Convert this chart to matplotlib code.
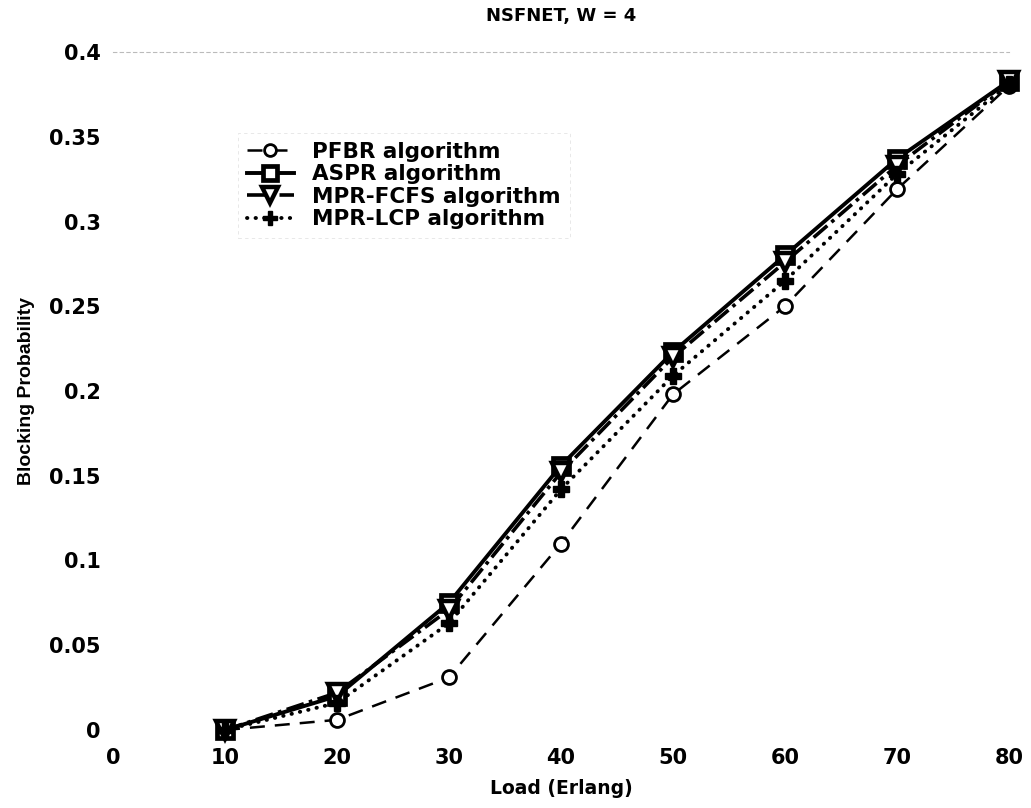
import matplotlib
matplotlib.use("Agg")
import matplotlib.pyplot as plt

load = [10, 20, 30, 40, 50, 60, 70, 80]
pfbr = [0.0, 0.006, 0.031, 0.110, 0.198, 0.250, 0.319, 0.380]
aspr = [0.0, 0.020, 0.075, 0.156, 0.223, 0.280, 0.337, 0.383]
mpr_fcfs = [0.0, 0.022, 0.071, 0.152, 0.220, 0.276, 0.333, 0.383]
mpr_lcp = [0.0, 0.016, 0.063, 0.142, 0.209, 0.265, 0.328, 0.381]

labels = ["PFBR algorithm", "ASPR algorithm", "MPR-FCFS algorithm", "MPR-LCP algorithm"]
xticks = [0, 10, 20, 30, 40, 50, 60, 70, 80]
yticks = [0, 0.05, 0.1, 0.15, 0.2, 0.25, 0.3, 0.35, 0.4]
yticklabels = ["0", "0.05", "0.1", "0.15", "0.2", "0.25", "0.3", "0.35", "0.4"]

plt.rcParams['font.family'] = ['DejaVu Sans']
plt.rcParams['font.weight'] = 'bold'

fig = plt.figure(figsize=(10.31, 8.08), dpi=100)
ax = fig.add_axes([113/1031, 1-730/808, (1009-113)/1031, (730-52)/808])

ax.plot(load, pfbr, color='black', lw=1.8, ls=(0, (6, 4)), marker='o', ms=10,
        mfc='white', mec='black', mew=2.0, clip_on=False, label=labels[0], zorder=3)
ax.plot(load, aspr, color='black', lw=2.8, ls='-', marker='s', ms=12,
        mfc='white', mec='black', mew=3.4, clip_on=False, label=labels[1], zorder=4)
ax.plot(load, mpr_fcfs, color='black', lw=2.6, ls=(0, (5, 1.5, 1, 1.5)), marker='v', ms=13,
        mfc='white', mec='black', mew=3.2, clip_on=False, label=labels[2], zorder=4)
ax.plot(load, mpr_lcp, color='black', lw=2.8, ls=(0, (0.1, 2.1)), dash_capstyle='round',
        marker='P', ms=12, mfc='black', mec='black', mew=1.0, clip_on=False,
        label=labels[3], zorder=5)

ax.set_xlim(0, 80)
ax.set_ylim(0, 0.4)
ax.set_xticks(xticks)
ax.set_xticklabels([str(t) for t in xticks])
ax.set_yticks(yticks)
ax.set_yticklabels(yticklabels)
ax.tick_params(axis='both', length=0, labelsize=15)
ax.tick_params(axis='x', pad=13)
ax.tick_params(axis='y', pad=9)

for s in ['left', 'right', 'bottom']:
    ax.spines[s].set_visible(False)
ax.spines['top'].set_color('#bbbbbb')
ax.spines['top'].set_linestyle((0, (3, 3)))
ax.spines['top'].set_linewidth(0.8)

ax.set_title("NSFNET, W = 4", fontsize=13, fontweight='bold', pad=22)
ax.set_xlabel("Load (Erlang)", fontsize=13.5, fontweight='bold', labelpad=8)
ax.set_ylabel("Blocking Probability", fontsize=14, fontweight='bold', labelpad=10,
              family=['Liberation Sans'])

leg = ax.legend(loc='upper left', bbox_to_anchor=(238/1031, 1-133/808),
                bbox_transform=fig.transFigure, fontsize=15.5, frameon=True,
                fancybox=False, edgecolor='#dddddd', borderaxespad=0, borderpad=0.4,
                handlelength=2.2, handletextpad=0.85, labelspacing=0.12, markerscale=0.85)
leg.get_frame().set_linewidth(0.6)
leg.get_frame().set_linestyle((0, (4, 4)))

fig.savefig("out.png", dpi=100)
